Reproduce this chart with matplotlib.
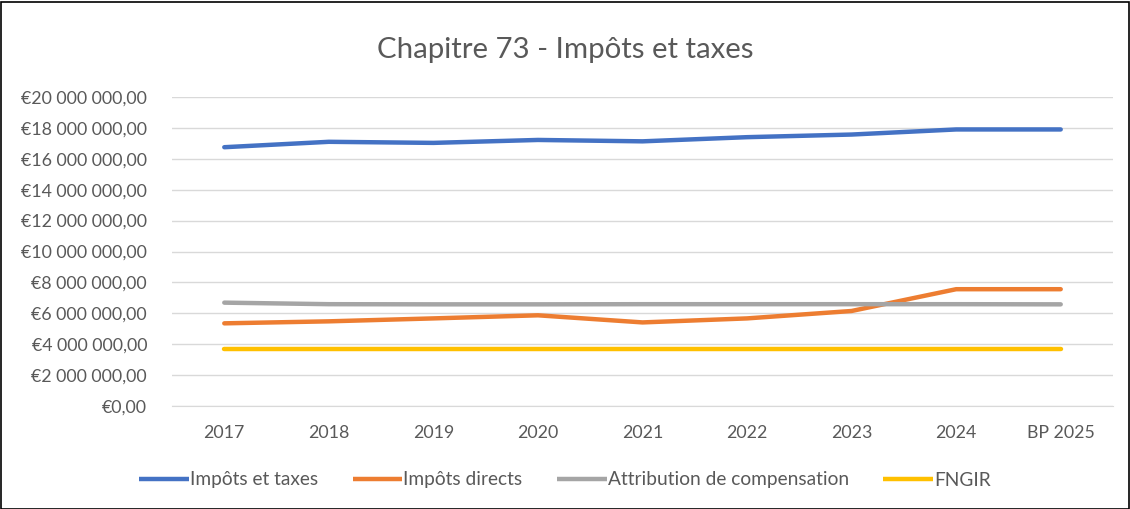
import matplotlib
matplotlib.use("Agg")
import matplotlib.pyplot as plt
from matplotlib.ticker import FuncFormatter
from matplotlib.patches import Rectangle

plt.rcParams['font.family'] = ['Lato', 'DejaVu Sans']

categories = ["2017", "2018", "2019", "2020", "2021", "2022", "2023", "2024", "BP 2025"]
impots_taxes = [16.75e6, 17.10e6, 17.03e6, 17.22e6, 17.13e6, 17.40e6, 17.57e6, 17.90e6, 17.90e6]
impots_directs = [5.35e6, 5.48e6, 5.67e6, 5.87e6, 5.41e6, 5.67e6, 6.15e6, 7.56e6, 7.56e6]
attribution = [6.69e6, 6.59e6, 6.58e6, 6.58e6, 6.59e6, 6.59e6, 6.59e6, 6.59e6, 6.58e6]
fngir = [3.72e6, 3.72e6, 3.72e6, 3.72e6, 3.72e6, 3.72e6, 3.72e6, 3.72e6, 3.72e6]

series = [
    ("Impôts et taxes", impots_taxes, "#4472C4"),
    ("Impôts directs", impots_directs, "#ED7D31"),
    ("Attribution de compensation", attribution, "#A5A5A5"),
    ("FNGIR", fngir, "#FFC000"),
]

W, H = 1130, 509
fig = plt.figure(figsize=(W / 100, H / 100), dpi=100)
fig.patches.append(Rectangle((0.5 / W, 0.5 / H), 1 - 2 / W, 1 - 2 / H, transform=fig.transFigure,
                             fill=False, edgecolor="black", linewidth=1.2))

left, right, top, bottom = 172, 1113, 97, 406
ax = fig.add_axes([left / W, 1 - bottom / H, (right - left) / W, (bottom - top) / H])

x = list(range(len(categories)))
for name, vals, col in series:
    ax.plot(x, vals, color=col, linewidth=3.2, label=name, solid_capstyle="round", solid_joinstyle="round")

ax.set_xlim(-0.5, len(categories) - 0.5)
ax.set_ylim(0, 20e6)
ax.set_yticks([i * 2e6 for i in range(11)])


def fmt(v, pos):
    if v == 0:
        return "€0,00"
    s = f"{int(round(v)):,}".replace(",", " ")
    return "€" + s + ",00"


ax.yaxis.set_major_formatter(FuncFormatter(fmt))
ax.set_xticks(x)
ax.set_xticklabels(categories)
ax.grid(axis="y", color="#D9D9D9", linewidth=1)
ax.set_axisbelow(True)
for s in ["top", "right", "left"]:
    ax.spines[s].set_visible(False)
ax.spines["bottom"].set_color("#D9D9D9")
ax.tick_params(axis="both", length=0, labelsize=12.8, colors="#595959")
ax.tick_params(axis="y", pad=18)
ax.tick_params(axis="x", pad=14)

fig.text(0.5, 1 - 50 / H, "Chapitre 73 - Impôts et taxes", ha="center", va="center",
         fontsize=21.2, color="#595959")

leg = fig.legend(loc="center", bbox_to_anchor=(0.5, 1 - 480 / H), ncol=4, frameon=False,
                 fontsize=13.8, handlelength=2.6, handletextpad=0.05, columnspacing=1.8)
for t in leg.get_texts():
    t.set_color("#595959")
for h in leg.get_lines():
    h.set_solid_capstyle("butt")

fig.savefig("out.png", dpi=100)
